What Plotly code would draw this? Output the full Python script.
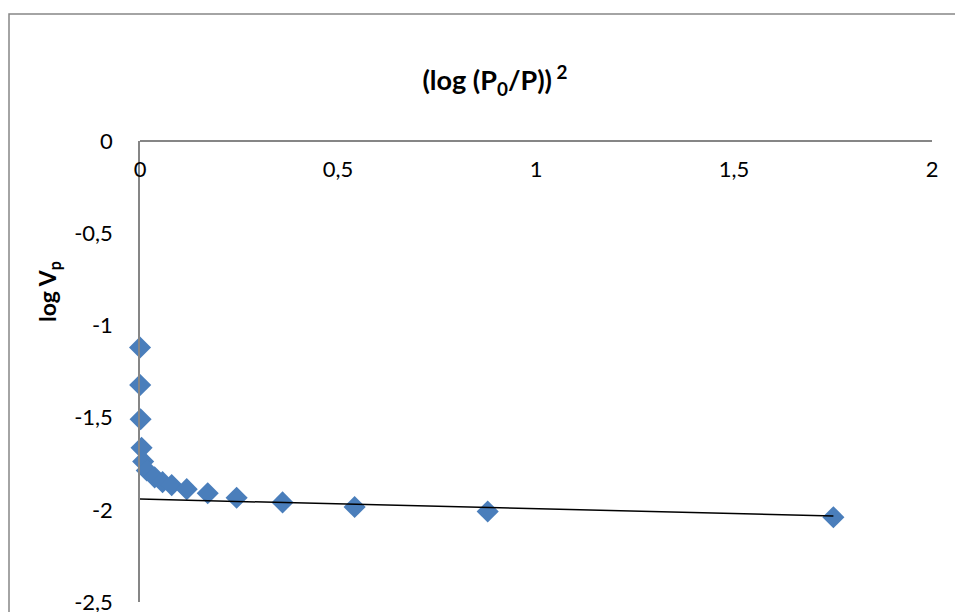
import plotly.graph_objects as go

# Data
x_vals = [0.0001, 0.0005, 0.0015, 0.004, 0.008, 0.017, 0.037, 0.057, 0.080, 0.118, 0.171, 0.244, 0.360, 0.542, 0.878, 1.751]
y_vals = [-1.120, -1.323, -1.509, -1.664, -1.738, -1.787, -1.824, -1.850, -1.866, -1.888, -1.910, -1.935, -1.960, -1.985, -2.009, -2.040]

trend_x = [0.0, 1.751]
trend_y = [-1.942, -2.033]

x_ticks = [0, 0.5, 1, 1.5, 2]
x_tick_text = ["0", "0,5", "1", "1,5", "2"]
y_ticks = [0, -0.5, -1, -1.5, -2, -2.5]
y_tick_text = ["0", "-0,5", "-1", "-1,5", "-2", "-2,5"]

W, H = 955, 612
L, R, T, B = 140, 23, 141, 10

fig = go.Figure()
fig.add_trace(go.Scatter(
    x=x_vals, y=y_vals, mode="markers",
    marker=dict(symbol="diamond", size=17, color="#4A7EBB", line=dict(width=0)),
    showlegend=False, cliponaxis=False,
))
fig.add_trace(go.Scatter(
    x=trend_x, y=trend_y, mode="lines",
    line=dict(color="black", width=1.5),
    showlegend=False,
))

pw = W - L - R
ph = H - T - B
def px2paper_x(px):
    return (px - L) / pw
def py2paper_y(py):
    return (H - B - py) / ph

fig.add_shape(type="rect", xref="paper", yref="paper",
              x0=px2paper_x(9), x1=px2paper_x(975),
              y0=py2paper_y(640), y1=py2paper_y(14),
              line=dict(color="#868686", width=1.5), layer="below")

fig.add_annotation(text="<b>log V<sub>p</sub></b>", xref="paper", yref="paper",
                   x=px2paper_x(48), y=py2paper_y(292), textangle=-90,
                   showarrow=False, xanchor="center", yanchor="middle",
                   font=dict(size=23))

fig.update_layout(
    width=W, height=H,
    margin=dict(l=L, r=R, t=T, b=B, pad=0),
    paper_bgcolor="white", plot_bgcolor="white",
    font=dict(family="Lato, Open Sans, sans-serif", size=22, color="black"),
    title=dict(text="<b>(log (P<sub>0</sub>/P))<sup> 2</sup></b>",
               x=495 / W, xanchor="center", y=1 - 81 / H, yanchor="middle",
               font=dict(size=27)),
    xaxis=dict(range=[0, 2], tickvals=x_ticks, ticktext=x_tick_text,
               showgrid=False, zeroline=False, automargin=False,
               showline=True, linecolor="#868686", linewidth=1.5,
               anchor="free", position=1, side="bottom", ticks="",
               ticklabelstandoff=9, ticklabeloverflow="allow"),
    yaxis=dict(range=[-2.5, 0], tickvals=y_ticks, ticktext=y_tick_text,
               showgrid=False, zeroline=False, automargin=False,
               showline=True, linecolor="#868686", linewidth=1.5, ticks="",
               ticklabelstandoff=21, ticklabeloverflow="allow"),
)

fig.write_html("out.html", config={"displayModeBar": False},
               post_script="document.body.style.margin='0';document.body.style.overflow='hidden';")
